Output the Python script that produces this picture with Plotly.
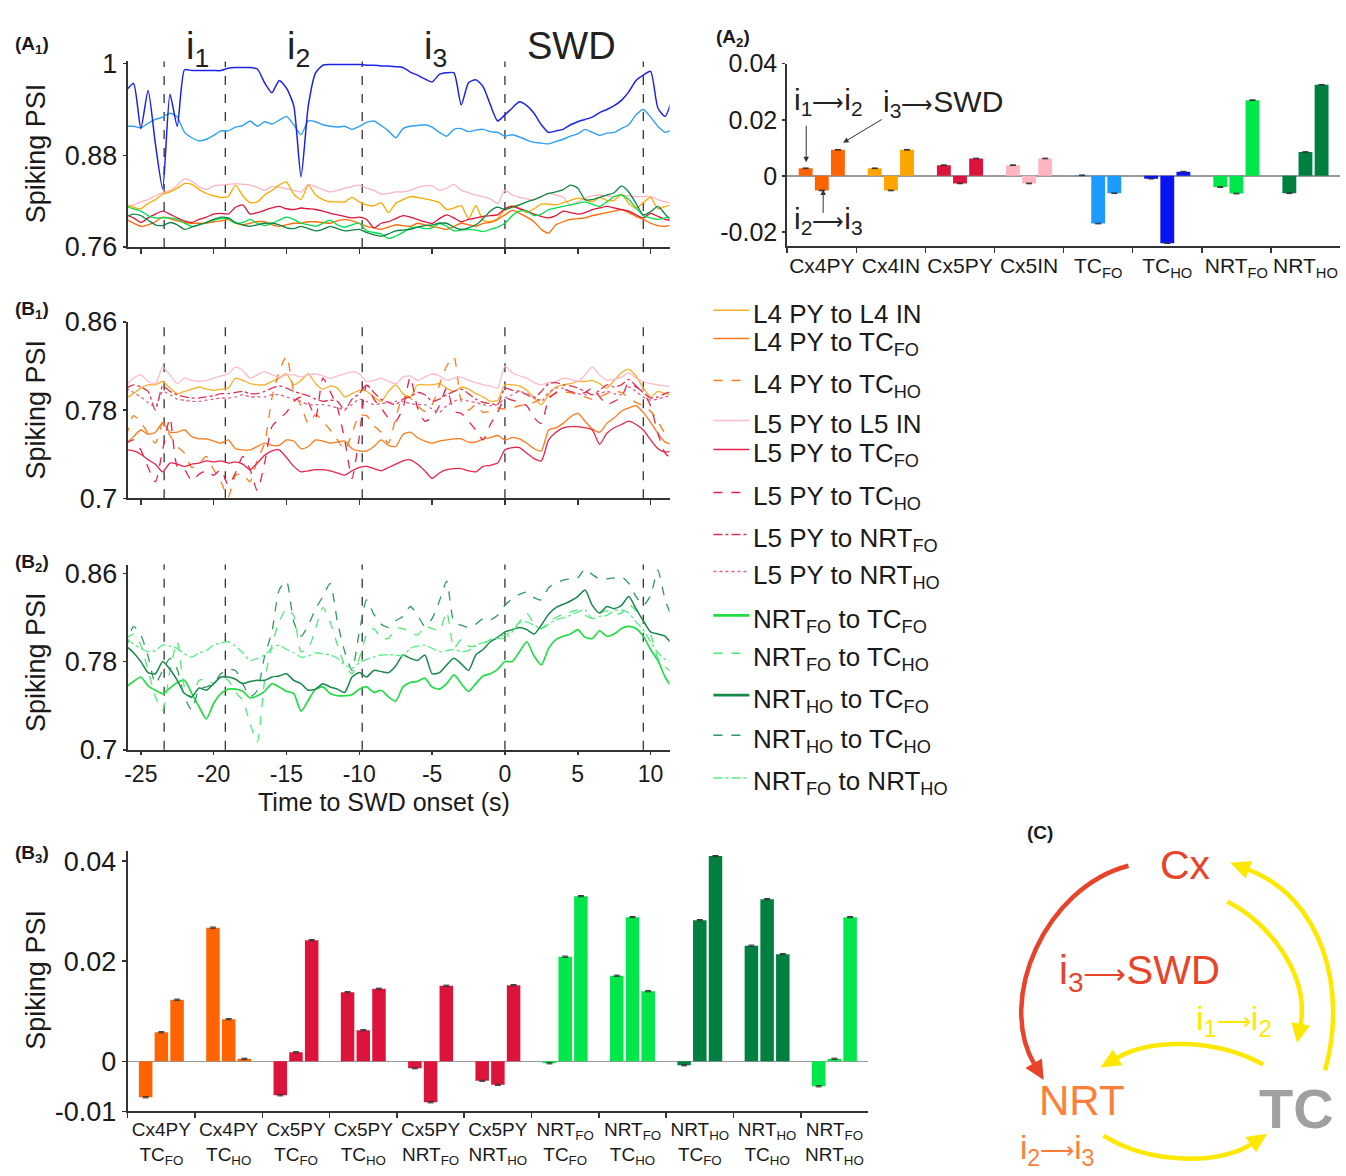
import math
import numpy as np
import plotly.graph_objects as go

W, H = 1346, 1176
FONT = "Liberation Sans, Arial, Helvetica, sans-serif"
INK = "#1a1a1a"

# ---------------- data ----------------
time_s = np.arange(-26.0, 11.51, 0.5)          # 76 samples, 0.5 s grid
x_ticks = [-25, -20, -15, -10, -5, 0, 5, 10]
x_tick_text = ["-25", "-20", "-15", "-10", "-5", "0", "5", "10"]
interval_bounds = [-23.4, -19.2, -9.8, 0.0, 9.5]
interval_names = ["i<sub>1</sub>", "i<sub>2</sub>", "i<sub>3</sub>", "SWD"]
interval_centres = [-21.1, -14.2, -4.8, 4.6]

# A1: spiking PSI of each population
a1_tc_ho = [0.965, 0.974, 0.915, 0.965, 0.895, 0.836, 0.960, 0.918, 0.992, 0.991,
            0.991, 0.991, 0.991, 0.991, 0.994, 0.995, 0.995, 0.995, 0.993, 0.975,
            0.962, 0.978, 0.968, 0.945, 0.852, 0.945, 0.988, 0.998, 0.999, 0.999,
            0.999, 0.999, 0.999, 0.998, 0.998, 0.997, 0.997, 0.996, 0.995, 0.989,
            0.985, 0.980, 0.976, 0.986, 0.988, 0.988, 0.946, 0.975, 0.979, 0.970,
            0.946, 0.925, 0.933, 0.942, 0.950, 0.945, 0.935, 0.920, 0.910, 0.912,
            0.914, 0.920, 0.924, 0.927, 0.930, 0.936, 0.940, 0.945, 0.952, 0.963,
            0.978, 0.985, 0.990, 0.942, 0.931, 0.955]
a1_tc_fo = [0.918, 0.918, 0.916, 0.922, 0.927, 0.930, 0.935, 0.930, 0.910, 0.903,
            0.899, 0.901, 0.906, 0.912, 0.912, 0.917, 0.919, 0.925, 0.918, 0.924,
            0.921, 0.926, 0.931, 0.920, 0.907, 0.925, 0.924, 0.920, 0.918, 0.917,
            0.918, 0.914, 0.918, 0.923, 0.925, 0.919, 0.912, 0.903, 0.915, 0.918,
            0.919, 0.920, 0.917, 0.910, 0.905, 0.914, 0.915, 0.911, 0.913, 0.914,
            0.911, 0.910, 0.905, 0.907, 0.904, 0.900, 0.897, 0.896, 0.895, 0.898,
            0.901, 0.905, 0.908, 0.914, 0.910, 0.906, 0.909, 0.910, 0.915, 0.920,
            0.933, 0.940, 0.930, 0.918, 0.910, 0.914]
a1_cx5in = [0.813, 0.815, 0.819, 0.822, 0.827, 0.831, 0.834, 0.841, 0.849, 0.846,
            0.839, 0.835, 0.840, 0.841, 0.842, 0.843, 0.842, 0.841, 0.838, 0.834,
            0.839, 0.838, 0.836, 0.834, 0.832, 0.842, 0.839, 0.835, 0.832, 0.834,
            0.837, 0.839, 0.841, 0.837, 0.834, 0.829, 0.830, 0.832, 0.832, 0.834,
            0.838, 0.840, 0.840, 0.834, 0.837, 0.842, 0.834, 0.831, 0.828, 0.826,
            0.823, 0.817, 0.834, 0.828, 0.825, 0.823, 0.822, 0.826, 0.830, 0.828,
            0.825, 0.814, 0.819, 0.824, 0.827, 0.828, 0.827, 0.826, 0.828, 0.827,
            0.826, 0.826, 0.826, 0.822, 0.819, 0.817]
a1_cx4in = [0.815, 0.812, 0.810, 0.817, 0.822, 0.829, 0.832, 0.837, 0.843, 0.842,
            0.835, 0.830, 0.827, 0.825, 0.826, 0.841, 0.827, 0.818, 0.819, 0.828,
            0.834, 0.841, 0.845, 0.829, 0.822, 0.841, 0.828, 0.822, 0.819, 0.819,
            0.819, 0.825, 0.819, 0.815, 0.814, 0.818, 0.805, 0.817, 0.822, 0.826,
            0.825, 0.823, 0.821, 0.818, 0.809, 0.811, 0.814, 0.797, 0.814, 0.795,
            0.793, 0.797, 0.809, 0.814, 0.811, 0.805, 0.810, 0.816, 0.816, 0.815,
            0.818, 0.821, 0.824, 0.822, 0.819, 0.825, 0.821, 0.821, 0.829, 0.817,
            0.811, 0.818, 0.825, 0.810, 0.813, 0.815]
a1_cx4py = [0.796, 0.791, 0.787, 0.789, 0.793, 0.799, 0.797, 0.794, 0.792, 0.791,
            0.791, 0.791, 0.793, 0.794, 0.796, 0.791, 0.789, 0.791, 0.793, 0.793,
            0.789, 0.787, 0.789, 0.791, 0.791, 0.793, 0.793, 0.792, 0.791, 0.794,
            0.796, 0.794, 0.791, 0.787, 0.785, 0.783, 0.786, 0.789, 0.788, 0.787,
            0.791, 0.789, 0.787, 0.785, 0.783, 0.787, 0.791, 0.789, 0.787, 0.791,
            0.792, 0.796, 0.802, 0.808, 0.804, 0.799, 0.793, 0.783, 0.778, 0.789,
            0.793, 0.796, 0.797, 0.798, 0.801, 0.803, 0.805, 0.807, 0.809, 0.805,
            0.800, 0.796, 0.791, 0.788, 0.787, 0.789]
a1_cx5py = [0.802, 0.798, 0.792, 0.798, 0.803, 0.807, 0.803, 0.798, 0.794, 0.792,
            0.796, 0.799, 0.803, 0.804, 0.803, 0.812, 0.815, 0.803, 0.805, 0.808,
            0.811, 0.813, 0.810, 0.809, 0.811, 0.810, 0.809, 0.807, 0.804, 0.802,
            0.800, 0.798, 0.799, 0.796, 0.785, 0.791, 0.793, 0.797, 0.801, 0.799,
            0.796, 0.793, 0.791, 0.797, 0.802, 0.798, 0.793, 0.796, 0.798, 0.800,
            0.801, 0.802, 0.810, 0.813, 0.810, 0.807, 0.803, 0.800, 0.798, 0.801,
            0.807, 0.805, 0.803, 0.805, 0.809, 0.811, 0.813, 0.811, 0.809, 0.807,
            0.802, 0.798, 0.804, 0.800, 0.796, 0.794]
a1_nrt_fo = [0.813, 0.810, 0.807, 0.801, 0.798, 0.798, 0.798, 0.796, 0.791, 0.787,
             0.789, 0.792, 0.795, 0.797, 0.797, 0.791, 0.792, 0.796, 0.791, 0.788,
             0.791, 0.795, 0.799, 0.796, 0.791, 0.789, 0.787, 0.791, 0.795, 0.789,
             0.786, 0.789, 0.791, 0.781, 0.779, 0.777, 0.771, 0.774, 0.779, 0.785,
             0.786, 0.784, 0.785, 0.791, 0.787, 0.781, 0.782, 0.783, 0.782, 0.780,
             0.783, 0.786, 0.791, 0.801, 0.807, 0.807, 0.801, 0.803, 0.809, 0.811,
             0.813, 0.815, 0.817, 0.819, 0.816, 0.813, 0.819, 0.826, 0.828, 0.822,
             0.811, 0.801, 0.798, 0.796, 0.798, 0.800]
a1_nrt_ho = [0.800, 0.803, 0.801, 0.795, 0.789, 0.788, 0.792, 0.789, 0.783, 0.786,
             0.789, 0.792, 0.796, 0.799, 0.798, 0.792, 0.789, 0.787, 0.789, 0.791,
             0.791, 0.789, 0.785, 0.784, 0.787, 0.784, 0.781, 0.783, 0.787, 0.784,
             0.781, 0.782, 0.783, 0.779, 0.776, 0.774, 0.777, 0.781, 0.782, 0.783,
             0.786, 0.788, 0.789, 0.791, 0.791, 0.786, 0.783, 0.785, 0.789, 0.797,
             0.807, 0.812, 0.809, 0.812, 0.815, 0.819, 0.822, 0.826, 0.830, 0.832,
             0.835, 0.841, 0.837, 0.822, 0.822, 0.825, 0.828, 0.831, 0.840, 0.832,
             0.817, 0.802, 0.806, 0.813, 0.803, 0.792]

# B1: cortical pairs
b1_l4py_l4in = [0.791, 0.795, 0.800, 0.803, 0.803, 0.806, 0.800, 0.795, 0.797, 0.799,
                0.801, 0.799, 0.798, 0.799, 0.800, 0.809, 0.807, 0.804, 0.803, 0.803,
                0.806, 0.809, 0.813, 0.803, 0.807, 0.813, 0.804, 0.799, 0.802, 0.800,
                0.792, 0.795, 0.798, 0.797, 0.792, 0.788, 0.797, 0.803, 0.795, 0.792,
                0.803, 0.803, 0.803, 0.804, 0.800, 0.797, 0.801, 0.799, 0.795, 0.792,
                0.788, 0.789, 0.803, 0.803, 0.802, 0.798, 0.791, 0.785, 0.794, 0.801,
                0.803, 0.804, 0.806, 0.806, 0.807, 0.804, 0.800, 0.807, 0.814, 0.817,
                0.811, 0.800, 0.792, 0.797, 0.795, 0.794]
b1_l4py_tcfo = [0.750, 0.756, 0.762, 0.758, 0.760, 0.769, 0.760, 0.760, 0.762, 0.756,
                0.754, 0.754, 0.752, 0.750, 0.753, 0.745, 0.744, 0.744, 0.747, 0.750,
                0.748, 0.748, 0.753, 0.752, 0.745, 0.747, 0.753, 0.752, 0.750, 0.751,
                0.752, 0.745, 0.743, 0.743, 0.747, 0.753, 0.748, 0.747, 0.758, 0.760,
                0.755, 0.752, 0.750, 0.752, 0.753, 0.754, 0.754, 0.751, 0.751, 0.754,
                0.755, 0.757, 0.753, 0.755, 0.754, 0.750, 0.745, 0.743, 0.762, 0.764,
                0.768, 0.774, 0.777, 0.770, 0.763, 0.760, 0.768, 0.773, 0.779, 0.782,
                0.784, 0.778, 0.769, 0.759, 0.751, 0.749]
b1_l4py_tcho = [0.756, 0.775, 0.769, 0.759, 0.750, 0.768, 0.757, 0.747, 0.741, 0.728,
                0.732, 0.738, 0.726, 0.715, 0.701, 0.721, 0.722, 0.715, 0.735, 0.750,
                0.791, 0.815, 0.829, 0.797, 0.784, 0.768, 0.776, 0.770, 0.762, 0.753,
                0.744, 0.759, 0.775, 0.775, 0.766, 0.760, 0.750, 0.773, 0.792, 0.791,
                0.784, 0.779, 0.785, 0.803, 0.820, 0.828, 0.788, 0.780, 0.785, 0.778,
                0.779, 0.782, 0.781, 0.782, 0.784, 0.785, 0.787, 0.790, 0.792, 0.795,
                0.796, 0.796, 0.794, 0.792, 0.790, 0.792, 0.795, 0.797, 0.796, 0.791,
                0.787, 0.784, 0.779, 0.770, 0.759, 0.756]
b1_l5py_l5in = [0.803, 0.809, 0.812, 0.806, 0.804, 0.819, 0.812, 0.804, 0.809, 0.807,
                0.806, 0.807, 0.809, 0.811, 0.813, 0.819, 0.816, 0.809, 0.812, 0.815,
                0.812, 0.810, 0.812, 0.812, 0.810, 0.812, 0.813, 0.811, 0.809, 0.811,
                0.813, 0.815, 0.813, 0.806, 0.807, 0.809, 0.806, 0.804, 0.810, 0.811,
                0.807, 0.810, 0.813, 0.811, 0.807, 0.809, 0.810, 0.807, 0.805, 0.803,
                0.802, 0.800, 0.820, 0.814, 0.811, 0.809, 0.805, 0.803, 0.805, 0.806,
                0.809, 0.808, 0.806, 0.812, 0.819, 0.812, 0.807, 0.808, 0.810, 0.814,
                0.809, 0.806, 0.804, 0.803, 0.802, 0.801]
b1_l5py_tcfo = [0.744, 0.743, 0.740, 0.735, 0.731, 0.724, 0.732, 0.731, 0.729, 0.731,
                0.732, 0.734, 0.733, 0.734, 0.732, 0.733, 0.731, 0.726, 0.732, 0.739,
                0.743, 0.744, 0.737, 0.729, 0.724, 0.725, 0.726, 0.726, 0.725, 0.723,
                0.721, 0.725, 0.728, 0.729, 0.727, 0.725, 0.728, 0.731, 0.734, 0.735,
                0.731, 0.725, 0.718, 0.723, 0.726, 0.727, 0.727, 0.725, 0.724, 0.729,
                0.730, 0.732, 0.744, 0.746, 0.746, 0.741, 0.736, 0.734, 0.753, 0.760,
                0.764, 0.765, 0.765, 0.764, 0.762, 0.749, 0.759, 0.764, 0.767, 0.770,
                0.767, 0.762, 0.753, 0.745, 0.742, 0.743]
b1_l5py_tcho = [0.750, 0.753, 0.744, 0.728, 0.715, 0.744, 0.773, 0.729, 0.726, 0.716,
                0.722, 0.725, 0.721, 0.726, 0.712, 0.723, 0.738, 0.726, 0.707, 0.732,
                0.765, 0.772, 0.778, 0.788, 0.792, 0.787, 0.773, 0.809, 0.797, 0.782,
                0.753, 0.718, 0.756, 0.803, 0.790, 0.782, 0.773, 0.770, 0.782, 0.810,
                0.782, 0.770, 0.773, 0.784, 0.800, 0.779, 0.777, 0.770, 0.762, 0.753,
                0.767, 0.778, 0.791, 0.789, 0.787, 0.784, 0.773, 0.768, 0.790, 0.796,
                0.799, 0.797, 0.795, 0.796, 0.800, 0.792, 0.785, 0.788, 0.792, 0.805,
                0.801, 0.796, 0.784, 0.759, 0.741, 0.735]
b1_l5py_nrtfo = [0.800, 0.803, 0.801, 0.797, 0.780, 0.802, 0.797, 0.794, 0.792, 0.791,
                 0.791, 0.792, 0.793, 0.795, 0.795, 0.796, 0.797, 0.795, 0.795, 0.797,
                 0.800, 0.802, 0.800, 0.797, 0.795, 0.793, 0.790, 0.788, 0.789, 0.788,
                 0.780, 0.790, 0.795, 0.803, 0.796, 0.790, 0.787, 0.785, 0.790, 0.792,
                 0.796, 0.794, 0.788, 0.790, 0.794, 0.797, 0.799, 0.795, 0.790, 0.787,
                 0.786, 0.785, 0.800, 0.798, 0.797, 0.794, 0.791, 0.797, 0.804, 0.805,
                 0.803, 0.802, 0.800, 0.797, 0.794, 0.798, 0.803, 0.801, 0.803, 0.808,
                 0.802, 0.796, 0.791, 0.792, 0.795, 0.797]
b1_l5py_nrtho = [0.800, 0.796, 0.792, 0.787, 0.783, 0.797, 0.794, 0.790, 0.789, 0.788,
                 0.788, 0.789, 0.790, 0.791, 0.791, 0.792, 0.794, 0.792, 0.792, 0.792,
                 0.794, 0.794, 0.792, 0.790, 0.788, 0.785, 0.785, 0.785, 0.784, 0.782,
                 0.781, 0.785, 0.790, 0.788, 0.785, 0.786, 0.787, 0.788, 0.788, 0.786,
                 0.785, 0.785, 0.781, 0.778, 0.784, 0.788, 0.790, 0.788, 0.787, 0.785,
                 0.784, 0.785, 0.791, 0.794, 0.797, 0.795, 0.792, 0.788, 0.796, 0.800,
                 0.800, 0.797, 0.795, 0.794, 0.794, 0.795, 0.797, 0.795, 0.794, 0.801,
                 0.797, 0.792, 0.789, 0.790, 0.792, 0.794]

# B2: thalamic pairs
b2_nrtfo_tcfo = [0.757, 0.762, 0.766, 0.758, 0.754, 0.751, 0.756, 0.761, 0.763, 0.751,
                 0.739, 0.728, 0.742, 0.751, 0.755, 0.755, 0.753, 0.747, 0.749, 0.753,
                 0.760, 0.757, 0.753, 0.751, 0.735, 0.745, 0.755, 0.757, 0.751, 0.749,
                 0.749, 0.750, 0.755, 0.757, 0.752, 0.754, 0.748, 0.744, 0.757, 0.761,
                 0.762, 0.765, 0.757, 0.755, 0.760, 0.768, 0.760, 0.753, 0.760, 0.767,
                 0.769, 0.773, 0.780, 0.780, 0.789, 0.798, 0.785, 0.777, 0.792, 0.800,
                 0.803, 0.805, 0.809, 0.802, 0.801, 0.808, 0.803, 0.805, 0.810, 0.812,
                 0.810, 0.803, 0.791, 0.781, 0.766, 0.756]
b2_nrtfo_tcho = [0.801, 0.805, 0.795, 0.772, 0.748, 0.736, 0.772, 0.798, 0.757, 0.747,
                 0.763, 0.764, 0.760, 0.766, 0.763, 0.752, 0.745, 0.724, 0.707, 0.763,
                 0.795, 0.816, 0.828, 0.822, 0.789, 0.792, 0.810, 0.829, 0.816, 0.795,
                 0.777, 0.769, 0.783, 0.804, 0.810, 0.801, 0.801, 0.810, 0.810, 0.806,
                 0.804, 0.812, 0.810, 0.808, 0.825, 0.792, 0.800, 0.794, 0.794, 0.796,
                 0.800, 0.802, 0.804, 0.808, 0.816, 0.824, 0.814, 0.810, 0.816, 0.820,
                 0.823, 0.825, 0.827, 0.822, 0.819, 0.824, 0.826, 0.823, 0.824, 0.832,
                 0.826, 0.817, 0.805, 0.783, 0.775, 0.770]
b2_nrtho_tcfo = [0.794, 0.788, 0.780, 0.770, 0.769, 0.780, 0.773, 0.763, 0.751, 0.748,
                 0.756, 0.754, 0.760, 0.766, 0.766, 0.764, 0.760, 0.762, 0.763, 0.763,
                 0.766, 0.767, 0.769, 0.763, 0.760, 0.754, 0.755, 0.760, 0.757, 0.755,
                 0.752, 0.766, 0.770, 0.766, 0.772, 0.771, 0.770, 0.776, 0.786, 0.783,
                 0.781, 0.786, 0.769, 0.770, 0.777, 0.783, 0.778, 0.772, 0.786, 0.791,
                 0.798, 0.802, 0.807, 0.809, 0.811, 0.809, 0.805, 0.813, 0.823, 0.829,
                 0.832, 0.835, 0.839, 0.845, 0.831, 0.824, 0.830, 0.828, 0.831, 0.839,
                 0.828, 0.817, 0.807, 0.805, 0.803, 0.795]
b2_nrtho_tcho = [0.792, 0.812, 0.804, 0.785, 0.760, 0.772, 0.783, 0.773, 0.748, 0.736,
                 0.755, 0.757, 0.760, 0.769, 0.773, 0.772, 0.760, 0.748, 0.754, 0.785,
                 0.807, 0.845, 0.853, 0.816, 0.803, 0.813, 0.828, 0.839, 0.851, 0.816,
                 0.789, 0.772, 0.807, 0.836, 0.823, 0.814, 0.811, 0.817, 0.821, 0.830,
                 0.822, 0.812, 0.819, 0.835, 0.853, 0.816, 0.813, 0.811, 0.814, 0.819,
                 0.818, 0.822, 0.831, 0.837, 0.841, 0.843, 0.838, 0.836, 0.847, 0.851,
                 0.854, 0.855, 0.856, 0.864, 0.859, 0.855, 0.855, 0.856, 0.857, 0.851,
                 0.839, 0.831, 0.840, 0.863, 0.836, 0.819]
b2_nrtfo_nrtho = [0.801, 0.796, 0.792, 0.789, 0.790, 0.795, 0.794, 0.792, 0.787, 0.784,
                  0.788, 0.790, 0.795, 0.797, 0.798, 0.794, 0.788, 0.781, 0.783, 0.786,
                  0.792, 0.795, 0.791, 0.788, 0.784, 0.785, 0.788, 0.787, 0.786, 0.783,
                  0.777, 0.774, 0.779, 0.782, 0.784, 0.786, 0.786, 0.786, 0.785, 0.792,
                  0.794, 0.795, 0.792, 0.789, 0.790, 0.791, 0.789, 0.790, 0.795, 0.797,
                  0.800, 0.801, 0.801, 0.807, 0.815, 0.816, 0.813, 0.810, 0.814, 0.818,
                  0.820, 0.822, 0.825, 0.827, 0.819, 0.821, 0.822, 0.826, 0.827, 0.824,
                  0.816, 0.809, 0.798, 0.788, 0.782, 0.780]

# A2: change of PSI between intervals, per population
a2_keys = ["Cx4PY", "Cx4IN", "Cx5PY", "Cx5IN", "TCFO", "TCHO", "NRTFO", "NRTHO"]
a2_labels = ["Cx4PY", "Cx4IN", "Cx5PY", "Cx5IN", "TC<sub>FO</sub>", "TC<sub>HO</sub>",
             "NRT<sub>FO</sub>", "NRT<sub>HO</sub>"]
a2_i1_i2 = [0.0027, 0.0027, 0.0038, 0.0038, 0.0002, -0.0010, -0.0040, -0.0062]
a2_i2_i3 = [-0.0052, -0.0052, -0.0027, -0.0027, -0.0170, -0.0240, -0.0063, 0.0085]
a2_i3_swd = [0.0093, 0.0093, 0.0062, 0.0062, -0.0062, 0.0015, 0.0270, 0.0325]

# B3: change of PSI between intervals, per pair
b3_keys = ["Cx4PY-TCFO", "Cx4PY-TCHO", "Cx5PY-TCFO", "Cx5PY-TCHO", "Cx5PY-NRTFO",
           "Cx5PY-NRTHO", "NRTFO-TCFO", "NRTFO-TCHO", "NRTHO-TCFO", "NRTHO-TCHO",
           "NRTFO-NRTHO"]
b3_labels = ["Cx4PY<br>TC<sub>FO</sub>", "Cx4PY<br>TC<sub>HO</sub>",
             "Cx5PY<br>TC<sub>FO</sub>", "Cx5PY<br>TC<sub>HO</sub>",
             "Cx5PY<br>NRT<sub>FO</sub>", "Cx5PY<br>NRT<sub>HO</sub>",
             "NRT<sub>FO</sub><br>TC<sub>FO</sub>", "NRT<sub>FO</sub><br>TC<sub>HO</sub>",
             "NRT<sub>HO</sub><br>TC<sub>FO</sub>", "NRT<sub>HO</sub><br>TC<sub>HO</sub>",
             "NRT<sub>FO</sub><br>NRT<sub>HO</sub>"]
b3_i1_i2 = [-0.0072, 0.0267, -0.0068, 0.0138, -0.0014, -0.0039, -0.0004, 0.0171,
            -0.0008, 0.0231, -0.0050]
b3_i2_i3 = [0.0058, 0.0084, 0.0018, 0.0062, -0.0082, -0.0047, 0.0209, 0.0288,
            0.0282, 0.0324, 0.0005]
b3_i3_swd = [0.0123, 0.0005, 0.0242, 0.0145, 0.0151, 0.0152, 0.0330, 0.0140,
             0.0410, 0.0214, 0.0288]

# ---------------- colours / styles ----------------
C_CX4PY, C_CX4IN, C_CX5PY, C_CX5IN = "#FF6A00", "#FFA800", "#DC143C", "#FFB6C1"
C_TCFO, C_TCHO, C_NRTFO, C_NRTHO = "#2DA0F5", "#1C22E8", "#00E050", "#0E8444"
BAR_CX4PY, BAR_CX4IN, BAR_CX5PY, BAR_CX5IN = "#FF6400", "#FFA500", "#DC143C", "#FFB6C1"
BAR_TCFO, BAR_TCHO, BAR_NRTFO, BAR_NRTHO = "#1E9BFF", "#0A14F0", "#00E64B", "#008040"
a2_colors = [BAR_CX4PY, BAR_CX4IN, BAR_CX5PY, BAR_CX5IN, BAR_TCFO, BAR_TCHO, BAR_NRTFO, BAR_NRTHO]
b3_colors = [BAR_CX4PY, BAR_CX4PY, BAR_CX5PY, BAR_CX5PY, BAR_CX5PY, BAR_CX5PY,
             BAR_NRTFO, BAR_NRTFO, BAR_NRTHO, BAR_NRTHO, BAR_NRTFO]

a1_series = [
    (a1_cx5in, C_CX5IN, 1.3), (a1_cx4in, C_CX4IN, 1.3), (a1_cx4py, C_CX4PY, 1.3),
    (a1_cx5py, C_CX5PY, 1.3), (a1_nrt_fo, C_NRTFO, 1.3), (a1_nrt_ho, C_NRTHO, 1.3),
    (a1_tc_fo, C_TCFO, 1.4), (a1_tc_ho, C_TCHO, 1.5),
]
b1_names = ["L4 PY to L4 IN", "L4 PY to TC<sub>FO</sub>", "L4 PY to TC<sub>HO</sub>",
            "L5 PY to L5 IN", "L5 PY to TC<sub>FO</sub>", "L5 PY to TC<sub>HO</sub>",
            "L5 PY to NRT<sub>FO</sub>", "L5 PY to NRT<sub>HO</sub>"]
b1_values = [b1_l4py_l4in, b1_l4py_tcfo, b1_l4py_tcho, b1_l5py_l5in, b1_l5py_tcfo,
             b1_l5py_tcho, b1_l5py_nrtfo, b1_l5py_nrtho]
b1_colors = ["#F7B02A", "#FF7A1A", "#FF7A1A", "#FFBACB", "#E8234A", "#E8234A", "#E0304F", "#E0608A"]
b1_dashes = ["solid", "solid", "dash", "solid", "solid", "dash", "dashdot", "dot"]
b2_names = ["NRT<sub>FO</sub> to TC<sub>FO</sub>", "NRT<sub>FO</sub> to TC<sub>HO</sub>",
            "NRT<sub>HO</sub> to TC<sub>FO</sub>", "NRT<sub>HO</sub> to TC<sub>HO</sub>",
            "NRT<sub>FO</sub> to NRT<sub>HO</sub>"]
b2_values = [b2_nrtfo_tcfo, b2_nrtfo_tcho, b2_nrtho_tcfo, b2_nrtho_tcho, b2_nrtfo_nrtho]
b2_colors = ["#22DD44", "#4FEA72", "#16884A", "#2E9960", "#55EE88"]
b2_dashes = ["solid", "dash", "solid", "dash", "dashdot"]
b2_widths = [1.7, 1.3, 1.5, 1.3, 1.3]


def px(x):
    return x / W


def py(y):
    return 1 - y / H


fig = go.Figure()

for vals, col, lw in a1_series:
    fig.add_trace(go.Scatter(x=time_s, y=vals, mode="lines", xaxis="x", yaxis="y",
                             line=dict(color=col, width=lw, shape="spline", smoothing=0.6),
                             showlegend=False, hoverinfo="skip"))
for vals, col, dash, name in zip(b1_values, b1_colors, b1_dashes, b1_names):
    fig.add_trace(go.Scatter(x=time_s, y=vals, mode="lines", xaxis="x3", yaxis="y3", name=name,
                             line=dict(color=col, width=1.3, dash=dash, shape="spline", smoothing=0.6),
                             showlegend=False, hoverinfo="skip"))
for vals, col, dash, lw, name in zip(b2_values, b2_colors, b2_dashes, b2_widths, b2_names):
    fig.add_trace(go.Scatter(x=time_s, y=vals, mode="lines", xaxis="x4", yaxis="y4", name=name,
                             line=dict(color=col, width=lw, dash=dash, shape="spline", smoothing=0.6),
                             showlegend=False, hoverinfo="skip"))

err = dict(type="constant", value=0.00012, color="#333", thickness=1, width=3)
for vals in (a2_i1_i2, a2_i2_i3, a2_i3_swd):
    fig.add_trace(go.Bar(x=a2_keys, y=vals, xaxis="x2", yaxis="y2", marker=dict(color=a2_colors, line=dict(width=0)),
                         error_y=err, showlegend=False, hoverinfo="skip"))
for vals in (b3_i1_i2, b3_i2_i3, b3_i3_swd):
    fig.add_trace(go.Bar(x=b3_keys, y=vals, xaxis="x5", yaxis="y5", marker=dict(color=b3_colors, line=dict(width=0)),
                         error_y=err, showlegend=False, hoverinfo="skip"))


def ax(**kw):
    d = dict(showline=True, linecolor="#333", linewidth=2, ticks="outside", ticklen=5,
             tickwidth=1.5, tickcolor="#333", showgrid=False, zeroline=False,
             tickfont=dict(family=FONT, size=26, color=INK), fixedrange=True)
    d.update(kw)
    return d


y_psi_ticks = [0.7, 0.78, 0.86]
y_psi_text = ["0.7", "0.78", "0.86"]
TL, TR = 125, 668

layout = dict(
    width=W, height=H, margin=dict(l=0, r=0, t=0, b=0),
    paper_bgcolor="white", plot_bgcolor="white", showlegend=False,
    barmode="group", bargap=0.3, bargroupgap=0.14,
    font=dict(family=FONT, color=INK),
    xaxis=ax(domain=[px(TL), px(TR)], range=[-25.9, 11.3], tickvals=x_ticks,
             showticklabels=False, anchor="y"),
    yaxis=ax(domain=[py(238), py(47.6)], range=[0.76, 1.003], tickvals=[0.76, 0.88, 1.0],
             ticktext=["0.76", "0.88", "1"], anchor="x", ticklen=3,
             tickfont=dict(family=FONT, size=27, color=INK)),
    xaxis2=ax(domain=[px(786), px(1340)], type="category", tickson="boundaries",
              tickvals=a2_keys, ticktext=a2_labels, anchor="y2", tickangle=0,
              tickfont=dict(family=FONT, size=21, color=INK)),
    yaxis2=ax(domain=[py(237), py(50)], range=[-0.025, 0.04], tickvals=[-0.02, 0, 0.02, 0.04],
              ticktext=["-0.02", "0", "0.02", "0.04"], anchor="x2", ticklen=3,
              zeroline=True, zerolinecolor="#9a9a9a", zerolinewidth=1.5,
              tickfont=dict(family=FONT, size=25, color=INK)),
    xaxis3=ax(domain=[px(TL), px(TR)], range=[-25.9, 11.3], tickvals=x_ticks,
              showticklabels=False, anchor="y3"),
    yaxis3=ax(domain=[py(496), py(315)], range=[0.7, 0.86], tickvals=y_psi_ticks,
              ticktext=y_psi_text, anchor="x3", ticklen=3,
              tickfont=dict(family=FONT, size=27, color=INK)),
    xaxis4=ax(domain=[px(TL), px(TR)], range=[-25.9, 11.3], tickvals=x_ticks,
              ticktext=x_tick_text, anchor="y4", ticklen=3,
              tickfont=dict(family=FONT, size=23, color=INK)),
    yaxis4=ax(domain=[py(754), py(564)], range=[0.7, 0.868], tickvals=y_psi_ticks,
              ticktext=y_psi_text, anchor="x4", ticklen=3,
              tickfont=dict(family=FONT, size=27, color=INK)),
    xaxis5=ax(domain=[px(125), px(867)], type="category", tickson="boundaries",
              tickvals=b3_keys, ticktext=b3_labels, anchor="y5", tickangle=0,
              tickfont=dict(family=FONT, size=19, color=INK)),
    yaxis5=ax(domain=[py(1125), py(858)], range=[-0.01, 0.042], tickvals=[-0.01, 0, 0.02, 0.04],
              ticktext=["-0.01", "0", "0.02", "0.04"], anchor="x5", ticklen=4,
              zeroline=True, zerolinecolor="#9a9a9a", zerolinewidth=1.5,
              tickfont=dict(family=FONT, size=27, color=INK)),
)

shapes = []
annotations = []


def text(t, x, y, size, color=INK, xanchor="center", yanchor="middle", angle=0, xref="paper"):
    annotations.append(dict(text=t, x=px(x) if xref == "paper" else x, y=py(y), xref=xref, yref="paper",
                            showarrow=False, xanchor=xanchor, yanchor=yanchor, textangle=angle,
                            font=dict(family=FONT, size=size, color=color)))


def arrow_txt(a, b, arrow_px):
    return f"{a}<span style='font-size:{arrow_px}px'>⟶</span>{b}"


# interval boundaries
for xa, ya in (("x", "y"), ("x3", "y3"), ("x4", "y4")):
    for b in interval_bounds:
        shapes.append(dict(type="line", xref=xa, yref=f"{ya} domain", x0=b, x1=b, y0=0, y1=1,
                           line=dict(color="#222", width=1.2, dash="dash"), layer="below"))

# interval names on A1
for name, tc in zip(interval_names, interval_centres):
    text(name, tc, 8, 38, color="#222", xref="x", yanchor="top")

# panel labels
text("<b>(A<sub>1</sub>)</b>", 10, 16, 19, xanchor="left", yanchor="top")
text("<b>(A<sub>2</sub>)</b>", 713, 9, 19, xanchor="left", yanchor="top")
text("<b>(B<sub>1</sub>)</b>", 10, 288, 19, xanchor="left", yanchor="top")
text("<b>(B<sub>2</sub>)</b>", 10, 548, 19, xanchor="left", yanchor="top")
text("<b>(B<sub>3</sub>)</b>", 10, 847, 19, xanchor="left", yanchor="top")
text("<b>(C)</b>", 1024, 839, 19, xanchor="left")

# axis titles
for yc in (142, 405, 664, 990):
    text("Spiking PSI", 33, yc, 27, angle=-90)
text("Time to SWD onset (s)", 382, 808, 25)

# A2 annotations
text(arrow_txt("i<sub>1</sub>", "i<sub>2</sub>", 22), 791, 68, 30, color="#222", xanchor="left", yanchor="top")
text(arrow_txt("i<sub>3</sub>", "SWD", 22), 880, 70, 30, color="#222", xanchor="left", yanchor="top")
text(arrow_txt("i<sub>2</sub>", "i<sub>3</sub>", 22), 791, 190, 30, color="#222", xanchor="left", yanchor="top")
for hx, hy, tx, ty in ((805, 151, 805, 113), (842, 131, 882, 107), (822, 179, 822, 204)):
    annotations.append(dict(text="", x=px(hx), y=py(hy), xref="paper", yref="paper",
                            ax=tx - hx, ay=ty - hy, axref="pixel", ayref="pixel", showarrow=True,
                            arrowhead=2, arrowsize=1.1, arrowwidth=1, arrowcolor="#333", standoff=0))

# manual legend
legend_rows = [305, 334, 377, 418, 448, 492, 535, 573, 618, 657, 700, 741, 785]
leg_names = b1_names + b2_names
leg_colors = b1_colors + b2_colors
leg_dashes = b1_dashes + b2_dashes
leg_widths = [1.5] * 8 + [2.8, 1.5, 2.8, 1.5, 1.5]
for yr, nm, col, dsh, lw in zip(legend_rows, leg_names, leg_colors, leg_dashes, leg_widths):
    shapes.append(dict(type="line", xref="paper", yref="paper", x0=px(712), x1=px(748),
                       y0=py(yr - 2), y1=py(yr - 2), line=dict(color=col, width=lw, dash=dsh)))
    text(nm, 750, yr - 16, 26, xanchor="left", yanchor="top")

# panel C diagram
RED, YEL, ORA, GRY = "#E8432B", "#FFE800", "#FF7F3A", "#A0A0A0"
text("Cx", 1185, 872, 41, color=RED)
text(arrow_txt("i<sub>3</sub>", "SWD", 30), 1056, 955, 40, color=RED, xanchor="left", yanchor="top")
text(arrow_txt("i<sub>1</sub>", "i<sub>2</sub>", 24), 1194, 1008, 34, color=YEL, xanchor="left", yanchor="top")
text("NRT", 1081, 1114, 42, color=ORA)
text(arrow_txt("i<sub>2</sub>", "i<sub>3</sub>", 24), 1017, 1141, 33, color=ORA, xanchor="left", yanchor="top")
text("<b>TC</b>", 1296, 1122, 56, color=GRY)

c_arrows = [
    ((1128, 873), (1045, 895), (995, 1010), (1043, 1093), RED),
    ((1227, 910), (1268, 930), (1310, 985), (1297, 1055), YEL),
    ((1325, 1083), (1348, 1000), (1322, 905), (1230, 870), YEL),
    ((1263, 1077), (1215, 1050), (1150, 1050), (1100, 1080), YEL),
    ((1103, 1150), (1150, 1180), (1220, 1180), (1267, 1148), YEL),
]
for p0, c1, c2, tip, col in c_arrows:
    dx, dy = tip[0] - c2[0], tip[1] - c2[1]
    n = math.hypot(dx, dy)
    ux, uy = dx / n, dy / n
    L, hw = 20, 9.5
    bx, by = tip[0] - L * ux, tip[1] - L * uy
    path = (f"M{px(p0[0])},{py(p0[1])} C{px(c1[0])},{py(c1[1])} "
            f"{px(c2[0])},{py(c2[1])} {px(bx + 2 * ux)},{py(by + 2 * uy)}")
    shapes.append(dict(type="path", path=path, xref="paper", yref="paper",
                       line=dict(color=col, width=4.5)))
    nx, ny = -uy, ux
    tri = (f"M{px(tip[0])},{py(tip[1])} L{px(bx + hw * nx)},{py(by + hw * ny)} "
           f"L{px(bx - hw * nx)},{py(by - hw * ny)} Z")
    shapes.append(dict(type="path", path=tri, xref="paper", yref="paper",
                       fillcolor=col, line=dict(width=0)))

layout["shapes"] = shapes
layout["annotations"] = annotations
fig.update_layout(**layout)
fig.write_html("out.html", config={"displayModeBar": False, "staticPlot": True},
               post_script="document.body.style.margin='0px';document.body.style.padding='0px';")
